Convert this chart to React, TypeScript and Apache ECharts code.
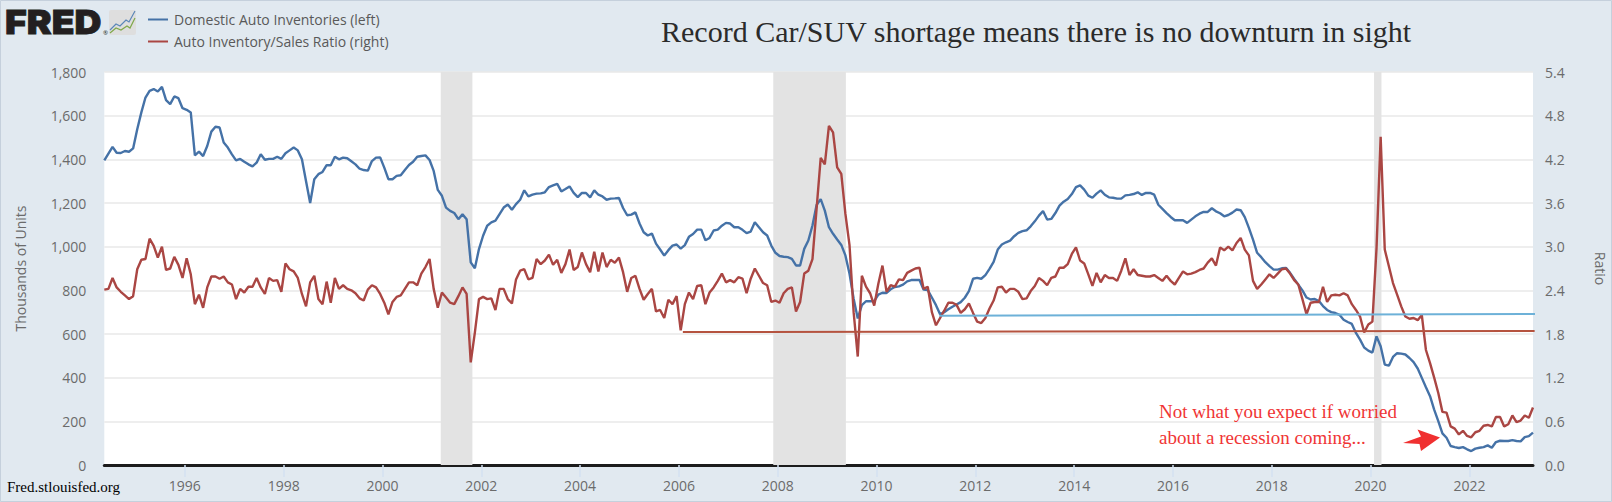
import React, { useEffect, useRef } from "react";
import * as echarts from "echarts";

const firstMonth = 1994.37; // mid-May 1994, as a decimal year
const lastMonth = 2023.287; // mid-April 2023
const leftTicks = [0, 200, 400, 600, 800, 1000, 1200, 1400, 1600, 1800];
const yearTicks = [1996, 1998, 2000, 2002, 2004, 2006, 2008, 2010, 2012, 2014, 2016, 2018, 2020, 2022];

const inventories = [
  1395,1426,1457,1430,1429,1438,1435,1450,1538,1615,
  1683,1714,1722,1711,1732,1671,1653,1688,1680,1634,
  1627,1615,1418,1435,1415,1461,1527,1549,1546,1477,
  1454,1423,1395,1402,1389,1377,1368,1385,1423,1398,
  1402,1402,1412,1402,1428,1441,1454,1441,1400,1300,
  1200,1309,1332,1342,1373,1373,1412,1400,1408,1405,
  1391,1377,1357,1351,1348,1392,1408,1409,1362,1309,
  1309,1324,1327,1351,1374,1389,1412,1415,1418,1397,
  1347,1260,1233,1179,1164,1154,1126,1148,1126,928,
  901,989,1050,1096,1111,1119,1149,1179,1193,1169,
  1195,1215,1258,1230,1238,1243,1244,1249,1273,1281,
  1288,1253,1264,1276,1246,1227,1246,1246,1226,1258,
  1238,1230,1215,1220,1221,1223,1177,1144,1147,1157,
  1106,1066,1051,1060,1014,987,959,984,1005,1010,
  991,1007,1045,1058,1078,1078,1029,1040,1074,1078,
  1096,1109,1106,1089,1089,1077,1062,1069,1112,1089,
  1066,1051,1005,972,957,954,952,944,914,914,
  990,1028,1097,1191,1218,1165,1089,1059,1033,1008,
  960,876,762,671,732,750,750,751,780,789,
  788,805,815,818,826,841,847,847,847,803,
  801,767,732,690,700,713,725,735,746,766,
  796,853,857,853,870,898,930,987,1010,1020,
  1028,1048,1063,1071,1075,1093,1116,1142,1163,1124,
  1127,1154,1188,1206,1218,1241,1273,1281,1261,1234,
  1224,1243,1258,1238,1226,1224,1220,1220,1235,1237,
  1241,1249,1237,1246,1246,1238,1192,1173,1154,1136,
  1121,1121,1121,1109,1124,1139,1151,1159,1159,1176,
  1162,1153,1139,1145,1156,1170,1167,1135,1086,1032,
  972,952,929,911,895,895,901,903,880,852,
  826,800,767,758,760,751,728,710,700,696,
  688,665,655,646,605,574,538,524,515,589,
  544,460,455,495,512,510,506,490,471,442,
  399,356,315,254,201,145,125,87,82,78,
  82,72,64,75,79,82,90,79,105,111,
  110,110,114,110,108,128,132,148,
];

const ratio = [
  2.41,2.42,2.57,2.44,2.38,2.33,2.28,2.32,2.69,2.82,
  2.83,3.11,3.01,2.85,3.00,2.68,2.70,2.86,2.75,2.57,
  2.84,2.62,2.21,2.34,2.16,2.44,2.59,2.59,2.56,2.59,
  2.51,2.48,2.28,2.42,2.37,2.45,2.45,2.57,2.44,2.35,
  2.57,2.53,2.54,2.38,2.77,2.69,2.66,2.57,2.35,2.18,
  2.51,2.60,2.28,2.21,2.52,2.23,2.57,2.42,2.47,2.42,
  2.40,2.36,2.29,2.26,2.41,2.47,2.44,2.35,2.23,2.07,
  2.24,2.31,2.33,2.42,2.51,2.51,2.47,2.63,2.72,2.83,
  2.42,2.16,2.37,2.30,2.23,2.21,2.32,2.44,2.35,1.41,
  1.82,2.28,2.31,2.28,2.29,2.13,2.42,2.42,2.28,2.22,
  2.55,2.67,2.69,2.55,2.57,2.83,2.76,2.81,2.89,2.75,
  2.82,2.64,2.76,2.96,2.68,2.72,2.92,2.76,2.65,2.93,
  2.66,2.92,2.72,2.82,2.78,2.85,2.65,2.38,2.57,2.60,
  2.42,2.27,2.35,2.42,2.11,2.13,2.02,2.27,2.21,2.32,
  1.85,2.21,2.37,2.28,2.46,2.47,2.21,2.37,2.44,2.53,
  2.63,2.51,2.54,2.51,2.58,2.56,2.36,2.56,2.70,2.60,
  2.50,2.47,2.24,2.26,2.23,2.36,2.42,2.44,2.11,2.24,
  2.63,2.67,2.83,3.52,4.22,4.13,4.66,4.57,4.09,4.00,
  3.45,3.02,2.10,1.49,2.60,2.45,2.36,2.19,2.49,2.74,
  2.38,2.47,2.45,2.55,2.54,2.64,2.67,2.70,2.71,2.42,
  2.45,2.10,1.92,2.02,2.12,2.23,2.23,2.20,2.09,2.14,
  2.22,2.09,1.97,1.95,2.02,2.15,2.26,2.44,2.45,2.37,
  2.42,2.42,2.38,2.28,2.29,2.39,2.46,2.57,2.53,2.47,
  2.57,2.59,2.71,2.71,2.76,2.90,2.99,2.81,2.77,2.62,
  2.46,2.64,2.51,2.61,2.57,2.57,2.53,2.67,2.84,2.61,
  2.69,2.61,2.60,2.59,2.59,2.61,2.57,2.53,2.60,2.53,
  2.48,2.57,2.66,2.62,2.63,2.65,2.68,2.70,2.78,2.84,
  2.74,2.99,2.95,3.00,2.95,3.05,3.12,2.96,2.88,2.53,
  2.42,2.48,2.55,2.62,2.57,2.63,2.69,2.70,2.63,2.54,
  2.48,2.28,2.07,2.23,2.24,2.24,2.45,2.24,2.33,2.34,
  2.33,2.36,2.33,2.21,2.13,2.04,1.82,1.93,1.97,2.98,
  4.51,2.96,2.73,2.50,2.34,2.18,2.04,2.01,2.02,1.99,
  2.06,1.58,1.40,1.20,0.99,0.73,0.72,0.53,0.50,0.42,
  0.47,0.40,0.38,0.45,0.47,0.54,0.55,0.53,0.66,0.66,
  0.53,0.56,0.68,0.59,0.61,0.68,0.65,0.79,
];

const recessions: [number, number][] = [
  [2001.18, 2001.82],
  [2007.91, 2009.38],
  [2020.07, 2020.22],
];

const inventoryTrend: [number, number][] = [[2011.27, 684], [2023.38, 692]];
const ratioTrend: [number, number][] = [[2006.08, 1.827], [2023.32, 1.842]];

const BLUE = "#4572a7";
const RED = "#aa4643";
const GREY = "#6b6b6b";
const SANS = "'Open Sans', sans-serif";
const SERIF = "'Liberation Serif', serif";

const monthly = (vals: number[]) => vals.map((v, i) => [firstMonth + i / 12, v]);

export default function App() {
  const ref = useRef<HTMLDivElement>(null);
  useEffect(() => {
    const chart = echarts.init(ref.current!, undefined, { renderer: "svg" });
    chart.setOption({
      animation: false,
      backgroundColor: "#e1e9f0",
      grid: {
        left: 104.3, right: 79, top: 72, bottom: 37,
        outerBoundsMode: "none",
        show: true, backgroundColor: "#ffffff", borderWidth: 0,
      },
      legend: {
        left: 143,
        top: 5,
        orient: "vertical",
        icon: "rect",
        itemWidth: 20,
        itemHeight: 2,
        itemGap: 3,
        selectedMode: false,
        data: ["Domestic Auto Inventories (left)", "Auto Inventory/Sales Ratio (right)"],
        textStyle: { fontFamily: SANS, fontSize: 14, color: "#595959", lineHeight: 19, padding: [0, 0, 0, 1] },
      },
      xAxis: {
        type: "value",
        min: firstMonth,
        max: lastMonth,
        axisLine: { show: true, onZero: false, lineStyle: { color: "#1c1c1c", width: 3 } },
        axisTick: {
          show: true,
          length: 12,
          lineStyle: { color: "#d3e1f2", width: 1.5 },
          customValues: yearTicks,
        },
        splitLine: { show: false },
        axisLabel: {
          color: GREY,
          fontFamily: SANS,
          fontSize: 14,
          margin: 13,
          customValues: yearTicks,
          formatter: (v: number) => String(v),
          hideOverlap: false,
        },
      },
      yAxis: [
        {
          type: "value",
          min: leftTicks[0],
          max: leftTicks[leftTicks.length - 1],
          interval: 200,
          name: "Thousands of Units",
          nameLocation: "middle",
          nameGap: 77,
          nameRotate: 90,
          nameTextStyle: { color: GREY, fontFamily: SANS, fontSize: 14 },
          axisLine: { show: false },
          axisTick: { show: false },
          splitLine: { show: true, lineStyle: { color: "#e8e8e8", width: 1.6 } },
          axisLabel: {
            color: GREY,
            fontFamily: SANS,
            fontSize: 14,
            margin: 18,
            formatter: (v: number) => v.toLocaleString("en-US"),
          },
        },
        {
          type: "value",
          min: 0,
          max: 5.4,
          interval: 0.6,
          name: "Ratio",
          nameLocation: "middle",
          nameGap: 60,
          nameRotate: -90,
          nameTextStyle: { color: GREY, fontFamily: SANS, fontSize: 14 },
          axisLine: { show: false },
          axisTick: { show: false },
          splitLine: { show: false },
          axisLabel: {
            color: GREY,
            fontFamily: SANS,
            fontSize: 14,
            margin: 12,
            formatter: (v: number) => v.toFixed(1),
          },
        },
      ],
      series: [
        {
          name: "Domestic Auto Inventories (left)",
          type: "line",
          yAxisIndex: 0,
          showSymbol: false,
          data: monthly(inventories),
          lineStyle: { color: BLUE, width: 2.4 },
          itemStyle: { color: BLUE },
          markArea: {
            silent: true,
            itemStyle: { color: "#e3e3e3" },
            data: recessions.map(([a, b]) => [{ xAxis: a }, { xAxis: b }]),
          },
          z: 3,
        },
        {
          name: "Auto Inventory/Sales Ratio (right)",
          type: "line",
          yAxisIndex: 1,
          showSymbol: false,
          data: monthly(ratio),
          lineStyle: { color: RED, width: 2.4 },
          itemStyle: { color: RED },
          z: 4,
        },
        {
          name: "inventory level line",
          type: "line",
          yAxisIndex: 0,
          showSymbol: false,
          clip: false,
          data: inventoryTrend,
          lineStyle: { color: "#6db1d8", width: 2 },
          z: 5,
        },
        {
          name: "ratio level line",
          type: "line",
          yAxisIndex: 1,
          showSymbol: false,
          clip: false,
          data: ratioTrend,
          lineStyle: { color: "#b5533f", width: 2 },
          z: 5,
        },
      ],
      graphic: [
        { type: "rect", shape: { x: 0.5, y: 0.5, width: 1611, height: 501 }, style: { fill: "none", stroke: "#c5d0dc", lineWidth: 1 }, z: 10 },
        { type: "text", x: 5, y: 5, scaleX: 1.13, style: { text: "FRED", font: "900 33px Inter, sans-serif", fill: "#231f20", stroke: "#231f20", lineWidth: 0.8 }, z: 10 },
        { type: "text", x: 103, y: 30, style: { text: "®", font: "6px 'Open Sans'", fill: "#231f20" }, z: 10 },
        { type: "rect", shape: { x: 109, y: 10, width: 27, height: 25, r: 2 }, style: { fill: "#dedede" }, z: 10 },
        { type: "polyline", shape: { points: [[110, 30], [116, 24], [120, 26], [126, 20], [129, 22], [135, 11]] }, style: { fill: "none", stroke: "#5b87b8", lineWidth: 1.2 }, z: 11 },
        { type: "polyline", shape: { points: [[110, 33], [116, 28], [121, 30], [127, 26], [130, 28], [135, 18]] }, style: { fill: "none", stroke: "#7fa84a", lineWidth: 1.2 }, z: 11 },
        { type: "text", x: 661, y: 16, style: { text: "Record Car/SUV shortage means there is no downturn in sight", font: `30px ${SERIF}`, fill: "#2b2b2b" }, z: 10 },
        { type: "text", x: 7, y: 479, style: { text: "Fred.stlouisfed.org", font: `15px ${SERIF}`, fill: "#000" }, z: 10 },
        { type: "text", x: 1159, y: 401.5, style: { text: "Not what you expect if worried", font: `19px ${SERIF}`, fill: "#f03535" }, z: 10 },
        { type: "text", x: 1159, y: 427.5, style: { text: "about a recession coming...", font: `19px ${SERIF}`, fill: "#f03535" }, z: 10 },
        {
          type: "polygon",
          shape: { points: [[1403, 443], [1421, 436.5], [1417.5, 429.5], [1440, 437.5], [1421, 451], [1419.5, 444]] },
          style: { fill: "#f03030" },
          z: 10,
        },
      ],
    });
    return () => chart.dispose();
  }, []);
  return <div ref={ref} style={{ position: "absolute", left: 0, top: 0, width: 1612, height: 502 }} />;
}
